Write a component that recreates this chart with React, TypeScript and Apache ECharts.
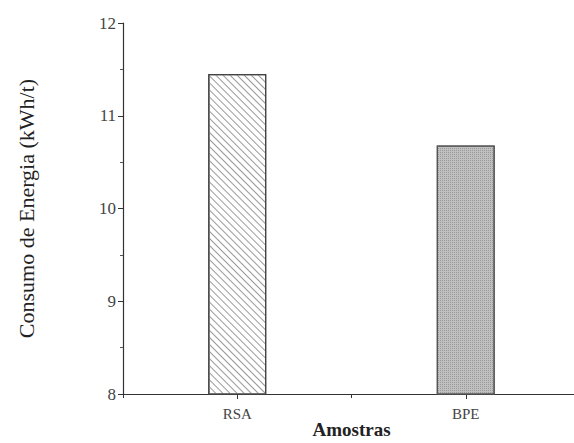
import React, { useEffect, useRef } from "react";
import * as echarts from "echarts";

const categories = ["RSA", "BPE"];
const values = [11.45, 10.68];
const yTicks = { min: 8, max: 12, interval: 1 };

export default function App() {
  const ref = useRef<HTMLDivElement>(null);
  useEffect(() => {
    document.body.style.margin = "0";
    const chart = echarts.init(ref.current!, null, { renderer: "svg" });
    const serif = "'Liberation Serif', 'DejaVu Serif', serif";
    chart.setOption({
      animation: false,
      backgroundColor: "#ffffff",
      grid: { left: 123, right: -6, top: 23, bottom: 49, containLabel: false, outerBoundsMode: "none" },
      xAxis: [
        {
          type: "category",
          data: categories,
          boundaryGap: true,
          axisLine: { show: true, lineStyle: { color: "#333", width: 1.2 } },
          axisTick: { show: true, alignWithLabel: true, length: 5, lineStyle: { color: "#333" } },
          axisLabel: { color: "#444", fontFamily: serif, fontSize: 15, margin: 12 },
          name: "Amostras",
          nameLocation: "middle",
          nameGap: 26,
          nameMoveOverlap: false,
          nameTextStyle: { color: "#222", fontFamily: serif, fontSize: 19, fontWeight: "bold" },
          splitLine: { show: false },
        },
        {
          type: "value",
          min: 0.5,
          max: 2.5,
          interval: 1,
          position: "bottom",
          axisLine: { show: false },
          axisTick: { show: true, length: 4, lineStyle: { color: "#333" } },
          axisLabel: { show: false },
          splitLine: { show: false },
        },
      ],
      yAxis: {
        type: "value",
        min: yTicks.min,
        max: yTicks.max,
        interval: yTicks.interval,
        axisLine: { show: true, lineStyle: { color: "#333", width: 1.2 } },
        axisTick: { show: true, length: 5, lineStyle: { color: "#333" } },
        minorTick: { show: true, splitNumber: 2, length: 3, lineStyle: { color: "#555" } },
        axisLabel: { color: "#444", fontFamily: serif, fontSize: 17, margin: 7 },
        splitLine: { show: false },
        name: "Consumo de Energia (kWh/t)",
        nameLocation: "middle",
        nameGap: 86,
        nameMoveOverlap: false,
        nameTextStyle: { color: "#222", fontFamily: serif, fontSize: 22 },
      },
      series: [
        {
          type: "bar",
          xAxisIndex: 0,
          barWidth: 58,
          data: [
            {
              value: values[0],
              itemStyle: {
                color: "#ffffff",
                borderColor: "#444",
                borderWidth: 1.2,
                decal: {
                  symbol: "rect",
                  color: "#9a9a9a",
                  backgroundColor: "#ffffff",
                  dashArrayX: [1, 0],
                  dashArrayY: [1, 3.5],
                  rotation: Math.PI / 4,
                },
              },
            },
            {
              value: values[1],
              itemStyle: {
                color: "#c0c0c0",
                borderColor: "#555",
                borderWidth: 1.2,
                decal: {
                  symbol: "rect",
                  color: "#999",
                  backgroundColor: "#cfcfcf",
                  dashArrayX: [1, 1],
                  dashArrayY: [1, 1],
                  rotation: 0,
                },
              },
            },
          ],
        },
      ],
    });
    return () => chart.dispose();
  }, []);
  return <div ref={ref} style={{ width: 574, height: 443 }} />;
}
